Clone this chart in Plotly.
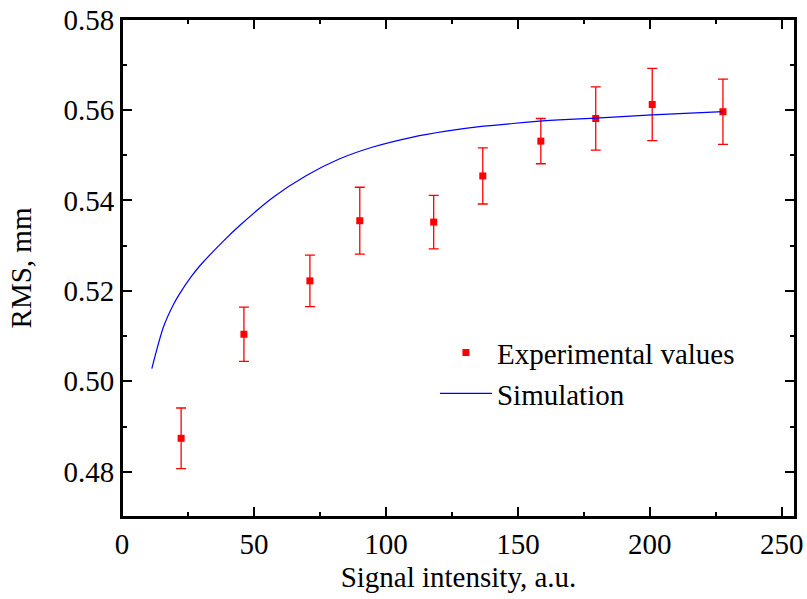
import plotly.graph_objects as go

# Experimental data
exp_x = [22.4, 46.2, 71.2, 90.1, 118.1, 136.7, 158.7, 179.5, 200.9, 227.7]
exp_y = [0.4874, 0.5104, 0.5222, 0.5355, 0.5352, 0.5454, 0.5531, 0.5581, 0.5612, 0.5596]
exp_err = [0.0067, 0.0060, 0.0057, 0.0074, 0.0059, 0.0062, 0.0050, 0.0070, 0.0080, 0.0072]

# Simulation curve
sim_x = [11.3, 15.7, 19.5, 22.0, 25.8, 29.6, 38.4, 44.7, 57.3, 69.9, 82.5, 95.1, 110.2,
         122.8, 135.4, 148.0, 158.1, 165.6, 179.5, 200.9, 227.7]
sim_y = [0.5028, 0.5120, 0.5170, 0.5195, 0.5228, 0.5256, 0.5310, 0.5345, 0.5407, 0.5455,
         0.5492, 0.5518, 0.5540, 0.5553, 0.5563, 0.5570, 0.5575, 0.5578, 0.5582, 0.5589, 0.5596]

x_ticks = [0, 50, 100, 150, 200, 250]
y_ticks = [0.48, 0.50, 0.52, 0.54, 0.56, 0.58]
y_tick_text = ["0.48", "0.50", "0.52", "0.54", "0.56", "0.58"]

FONT = "Liberation Serif"

fig = go.Figure()
fig.add_trace(go.Scatter(
    x=exp_x, y=exp_y, mode="markers", name="Experimental values",
    legendgroup="a",
    marker=dict(symbol="square", size=7, color="#ff0000"),
    error_y=dict(type="data", array=exp_err, visible=True, color="#ff0000",
                 thickness=1.3, width=5),
))
fig.add_trace(go.Scatter(
    x=sim_x, y=sim_y, mode="lines", name="Simulation",
    legendgroup="b",
    line=dict(color="#0000ff", width=1.2, shape="spline", smoothing=0.8),
))

axis_common = dict(
    showline=True, linecolor="black", linewidth=2, mirror="ticks",
    ticks="inside", ticklen=10, tickwidth=2, tickcolor="black",
    showgrid=False, zeroline=False, automargin=False,
    tickfont=dict(family=FONT, size=29, color="black"),
)

fig.update_xaxes(
    range=[0, 255], tickvals=x_ticks, ticktext=[str(v) for v in x_ticks],
    minor=dict(dtick=25, tick0=0, ticks="inside", ticklen=5, tickwidth=2, tickcolor="black", showgrid=False),
    title=dict(text="Signal intensity, a.u.", font=dict(family=FONT, size=29, color="black"), standoff=8),
    **axis_common,
)
fig.update_yaxes(
    range=[0.47, 0.5801], tickvals=y_ticks, ticktext=y_tick_text,
    minor=dict(dtick=0.01, tick0=0.47, ticks="inside", ticklen=5, tickwidth=2, tickcolor="black", showgrid=False),
    title=dict(text="RMS, mm", font=dict(family=FONT, size=29, color="black"), standoff=23),
    **axis_common,
)

# Plot frame drawn as a rectangle around the plotting area (paper coordinates)
fig.add_shape(type="rect", xref="paper", yref="paper", x0=0, y0=0, x1=1, y1=1,
              line=dict(color="black", width=2), layer="above")

fig.update_layout(
    width=807, height=599,
    margin=dict(l=122, r=12, t=19, b=82),
    plot_bgcolor="white", paper_bgcolor="white",
    showlegend=True,
    legend=dict(
        x=0.465, y=0.381, xanchor="left", yanchor="top",
        font=dict(family=FONT, size=29, color="black"),
        bgcolor="rgba(0,0,0,0)", itemwidth=52,
        traceorder="grouped", tracegroupgap=0,
    ),
)

fig.write_html(
    "out.html",
    config={"displayModeBar": False},
    post_script="document.body.style.margin='0';document.body.style.overflow='hidden';",
)
